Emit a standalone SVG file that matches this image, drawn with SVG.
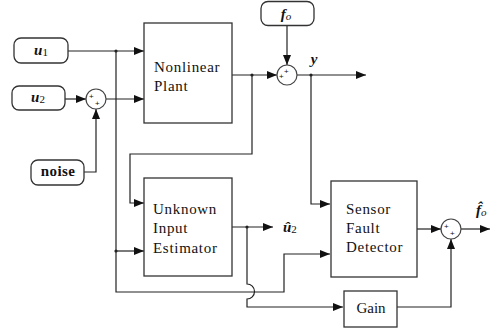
<svg xmlns="http://www.w3.org/2000/svg" width="493" height="332" viewBox="0 0 493 332">
<style>
.blk{fill:#fff;stroke:#333;stroke-width:1.3}
.src{fill:#fff;stroke:#333;stroke-width:1.3}
.sum{fill:#fff;stroke:#444;stroke-width:1.2}
.ln{fill:none;stroke:#222;stroke-width:1.2}
.arr{fill:none;stroke:#222;stroke-width:1.2;marker-end:url(#ah)}
.t{font-family:"Liberation Serif","Times New Roman",serif;font-size:15px;fill:#111;letter-spacing:0.7px}
.lab{font-family:"Liberation Serif","Times New Roman",serif;font-size:15px;fill:#111}
.bi{font-weight:bold;font-style:italic}
.it{font-style:italic}
.pl{font-family:"Liberation Sans",Arial,sans-serif;font-size:8px;fill:#111}
.dot{fill:#222}
</style>
<defs>
<marker id="ah" markerUnits="userSpaceOnUse" markerWidth="10" markerHeight="8" refX="10" refY="4" orient="auto">
<path d="M0,0 L10,4 L0,8 z" fill="#111"/>
</marker>
</defs>
<g id="connectors">
<path class="arr" d="M68,51 H144"/>
<path class="arr" d="M65,99 H86"/>
<path class="arr" d="M106,99 H144"/>
<path class="arr" d="M84,172 H96 V109"/>
<path class="arr" d="M116,51 V292 H284 V254 H330"/>
<path class="arr" d="M116,251 H144"/>
<path class="arr" d="M232,75 H277"/>
<path class="arr" d="M252,75 V154 H130 V203 H144"/>
<path class="arr" d="M287,25 V65"/>
<path class="arr" d="M297,75 H366"/>
<path class="arr" d="M311,75 V204 H330"/>
<path class="arr" d="M232,227 H273"/>
<path class="arr" d="M247,227 V284 A7.5,7.5 0 0 1 247,299 V307 H343"/>
<path class="arr" d="M417,229 H441"/>
<path class="arr" d="M397,307 H451 V239"/>
<path class="arr" d="M461,229 H490"/>
<circle class="dot" cx="116" cy="51" r="1.6"/>
<circle class="dot" cx="116" cy="251" r="1.6"/>
<circle class="dot" cx="252" cy="75" r="1.6"/>
<circle class="dot" cx="311" cy="75" r="1.6"/>
<circle class="dot" cx="247" cy="227" r="1.6"/>
</g>
<g id="u1">
<rect class="src" x="14" y="38" width="54" height="25" rx="7"/>
<text class="lab" x="41" y="55" text-anchor="middle"><tspan class="bi">u</tspan><tspan font-size="11" dy="1">1</tspan></text>
</g>
<g id="u2">
<rect class="src" x="12" y="86" width="53" height="24" rx="7"/>
<text class="lab" x="38" y="102" text-anchor="middle"><tspan class="bi">u</tspan><tspan font-size="11" dy="1">2</tspan></text>
</g>
<g id="noise">
<rect class="src" x="31" y="160" width="53" height="25" rx="7"/>
<text class="lab" x="58" y="176" text-anchor="middle" font-weight="bold" letter-spacing="0.4">noise</text>
</g>
<g id="sum1">
<circle class="sum" cx="96" cy="99" r="10"/>
<text class="pl" x="89" y="99">+</text>
<text class="pl" x="95" y="106">+</text>
</g>
<g id="plant">
<rect class="blk" x="144" y="23" width="88" height="100"/>
<text class="t" x="154" y="72">Nonlinear</text>
<text class="t" x="154" y="91">Plant</text>
</g>
<g id="fo">
<rect class="src" x="261" y="1.5" width="53" height="24" rx="7"/>
<text class="lab" x="286" y="19" text-anchor="middle"><tspan class="bi">f</tspan><tspan class="it" font-size="11" dy="1">o</tspan></text>
</g>
<g id="sum2">
<circle class="sum" cx="287" cy="75" r="10"/>
<text class="pl" x="284" y="74">+</text>
<text class="pl" x="279" y="79">+</text>
</g>
<g id="y-label">
<text class="lab it bi" x="314" y="64" text-anchor="middle">y</text>
</g>
<g id="uie">
<rect class="blk" x="144" y="178" width="88" height="98"/>
<text class="t" x="153" y="214">Unknown</text>
<text class="t" x="153" y="233">Input</text>
<text class="t" x="153" y="253">Estimator</text>
</g>
<g id="u2hat">
<text class="lab" x="283" y="232"><tspan class="bi">û</tspan><tspan font-size="11" dy="1">2</tspan></text>
</g>
<g id="sensor">
<rect class="blk" x="331" y="181" width="86" height="96"/>
<text class="t" x="346" y="214">Sensor</text>
<text class="t" x="346" y="233">Fault</text>
<text class="t" x="346" y="252">Detector</text>
</g>
<g id="sum3">
<circle class="sum" cx="451" cy="229" r="10"/>
<text class="pl" x="444" y="229">+</text>
<text class="pl" x="450" y="236">+</text>
</g>
<g id="fohat">
<text class="lab" x="476" y="215"><tspan class="bi">f̂</tspan><tspan class="it" font-size="11" dy="1">o</tspan></text>
</g>
<g id="gain">
<rect class="blk" x="344" y="291" width="53" height="36"/>
<text class="lab" x="371" y="313" text-anchor="middle" font-size="14">Gain</text>
</g>
</svg>
